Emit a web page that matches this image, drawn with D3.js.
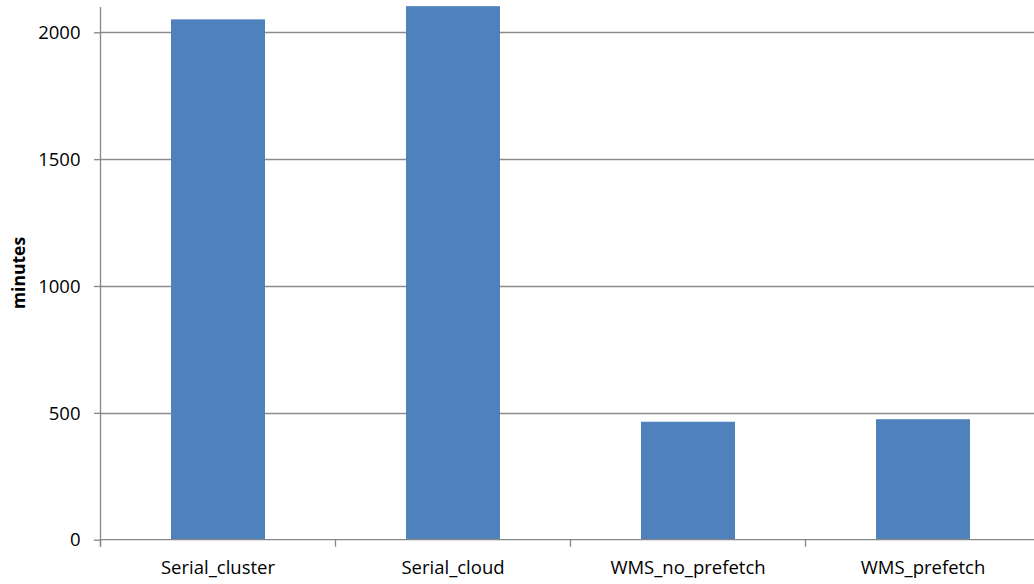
<!DOCTYPE html>
<html>
<head>
<meta charset="utf-8">
<script src="https://cdn.jsdelivr.net/npm/d3@7"></script>
<style>
  html, body { margin: 0; padding: 0; background: #fff; }
  svg { display: block; }
  text { font-family: "Open Sans", "Liberation Sans", sans-serif; fill: #000; }
</style>
</head>
<body>
<svg id="chart" width="1034" height="584"></svg>
<script>
// Run times for each execution mode, in minutes
const categories = ["Serial_cluster", "Serial_cloud", "WMS_no_prefetch", "WMS_prefetch"];
const minutes = [2051, 2103, 465, 475];
const yTicks = [0, 500, 1000, 1500, 2000];

const svg = d3.select("#chart");
const margin = { left: 100.5, top: 7, bottom: 539.7 };

const x = d3.scaleBand()
  .domain(categories)
  .range([margin.left, margin.left + 4 * 235])
  .paddingInner(0.6)
  .paddingOuter(0.3);

const y = d3.scaleLinear()
  .domain([0, 2100])
  .range([margin.bottom, margin.bottom - 2100 * (507.4 / 2000)]);

const gridColor = "#8c8c8c";
const axisColor = "#868686";
const labelSize = "18.5px";

// horizontal gridlines
svg.append("g")
  .selectAll("line")
  .data(yTicks.filter(d => d > 0))
  .join("line")
  .attr("x1", margin.left)
  .attr("x2", 1034)
  .attr("y1", d => Math.round(y(d)) + 0.5)
  .attr("y2", d => Math.round(y(d)) + 0.5)
  .attr("stroke", gridColor)
  .attr("stroke-width", 1.3);

// bars
svg.append("g")
  .selectAll("rect")
  .data(categories)
  .join("rect")
  .attr("x", d => x(d))
  .attr("width", x.bandwidth())
  .attr("y", (d, i) => Math.max(y(minutes[i]), 6))
  .attr("height", (d, i) => y(0) - Math.max(y(minutes[i]), 6))
  .attr("fill", "#4f81bd");

// y axis
const yAxis = d3.axisLeft(y)
  .tickValues(yTicks)
  .tickSize(6.5)
  .tickPadding(13.5)
  .tickFormat(d3.format("d"));

const gy = svg.append("g")
  .attr("transform", `translate(${margin.left},0)`)
  .call(yAxis);
gy.select(".domain").remove();
gy.selectAll(".tick line").attr("stroke", axisColor).attr("stroke-width", 1.3);
gy.selectAll(".tick text").style("font-size", labelSize).attr("dy", "0.34em");
gy.append("line")
  .attr("x1", 0).attr("x2", 0)
  .attr("y1", margin.top).attr("y2", y(0) + 7)
  .attr("stroke", axisColor)
  .attr("stroke-width", 1.3);

// x axis baseline with category boundary ticks
const step = x.step();
const boundaries = d3.range(0, categories.length + 1).map(i => margin.left + i * step);
const gx = svg.append("g");
gx.append("line")
  .attr("x1", margin.left).attr("x2", 1034)
  .attr("y1", y(0)).attr("y2", y(0))
  .attr("stroke", axisColor)
  .attr("stroke-width", 1.3);
gx.selectAll("line.b")
  .data(boundaries)
  .join("line")
  .attr("class", "b")
  .attr("x1", d => d).attr("x2", d => d)
  .attr("y1", y(0)).attr("y2", y(0) + 7)
  .attr("stroke", axisColor)
  .attr("stroke-width", 1.3);
gx.selectAll("text")
  .data(categories)
  .join("text")
  .attr("x", d => x(d) + x.bandwidth() / 2)
  .attr("y", 574)
  .attr("text-anchor", "middle")
  .style("font-size", labelSize)
  .text(d => d);

// y axis title
svg.append("text")
  .attr("transform", "translate(25,273) rotate(-90)")
  .attr("text-anchor", "middle")
  .style("font-size", "17.5px")
  .style("font-weight", "bold")
  .text("minutes");
</script>
</body>
</html>
